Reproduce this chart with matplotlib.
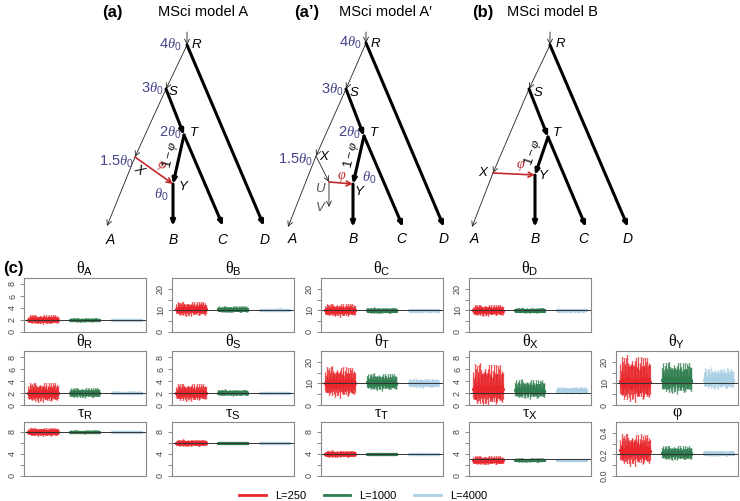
import numpy as np
import matplotlib
matplotlib.use('Agg')
import matplotlib.pyplot as plt
from matplotlib.lines import Line2D

plt.rcParams['font.family'] = ['Liberation Sans', 'DejaVu Sans']
plt.rcParams['mathtext.fontset'] = 'custom'
plt.rcParams['mathtext.rm'] = 'Liberation Serif'
plt.rcParams['mathtext.it'] = 'Liberation Serif:italic'
plt.rcParams['mathtext.sf'] = 'Liberation Sans'

W, H = 740, 501

# tree diagrams: node positions (figure pixels), edges and labels
treeA_nodes = {'top': (187, 32), 'R': (187, 45), 'S': (166, 89), 'T': (184, 135),
               'X': (135, 157), 'Y': (173, 184), 'A': (107, 226), 'B': (173, 226),
               'C': (223, 226), 'D': (264, 226)}
treeA_edges = [('top', 'R', 'thin'), ('R', 'S', 'thin'), ('R', 'D', 'thick'), ('S', 'X', 'thin'),
               ('S', 'T', 'thick'), ('X', 'A', 'thin'), ('T', 'Y', 'thick'), ('T', 'C', 'thick'),
               ('Y', 'B', 'thick'), ('X', 'Y', 'red')]
treeA_labels = [(r'$\mathsf{4}\theta_{\mathsf{0}}$', 170, 45, 'theta', 0),
                ('R', 196, 45, 'node', 0),
                (r'$\mathsf{3}\theta_{\mathsf{0}}$', 152, 89, 'theta', 0),
                ('S', 173, 92, 'node', 0),
                (r'$\mathsf{2}\theta_{\mathsf{0}}$', 170, 133, 'theta', 0),
                ('T', 194, 133, 'node', 0),
                (r'$\mathsf{1.5}\theta_{\mathsf{0}}$', 116, 162, 'theta', 0),
                ('X', 139, 170, 'node', -35),
                (r'$\varphi$', 161, 166, 'phi', -35),
                (r'$\mathsf{1}-\varphi$', 170, 155, 'omp', 77),
                ('Y', 183, 187, 'node', 0),
                (r'$\theta_{\mathsf{0}}$', 161, 195, 'theta', 0),
                ('A', 110, 240, 'leaf', 0), ('B', 173, 240, 'leaf', 0),
                ('C', 222, 240, 'leaf', 0), ('D', 265, 240, 'leaf', 0)]

treeA2_nodes = {'top': (366, 32), 'R': (366, 43), 'S': (346, 89), 'T': (364, 136),
                'X': (316, 156), 'U': (329, 182), 'V': (329, 207), 'Y': (353, 184),
                'A': (288, 227), 'B': (353, 227), 'C': (403, 227), 'D': (444, 227)}
treeA2_edges = [('top', 'R', 'thin'), ('R', 'S', 'thin'), ('R', 'D', 'thick'), ('S', 'X', 'thin'),
                ('S', 'T', 'thick'), ('X', 'A', 'thin'), ('X', 'U', 'thin'), ('U', 'V', 'thin'),
                ('T', 'Y', 'thick'), ('T', 'C', 'thick'), ('Y', 'B', 'thick'), ('U', 'Y', 'red')]
treeA2_labels = [(r'$\mathsf{4}\theta_{\mathsf{0}}$', 350, 43, 'theta', 0),
                 ('R', 375, 44, 'node', 0),
                 (r'$\mathsf{3}\theta_{\mathsf{0}}$', 332, 90, 'theta', 0),
                 ('S', 354, 93, 'node', 0),
                 (r'$\mathsf{2}\theta_{\mathsf{0}}$', 349, 133, 'theta', 0),
                 ('T', 374, 133, 'node', 0),
                 (r'$\mathsf{1.5}\theta_{\mathsf{0}}$', 295, 160, 'theta', 0),
                 ('X', 324, 157, 'node', 0),
                 (r'$\mathsf{1}-\varphi$', 351, 155, 'omp', 77),
                 (r'$\varphi$', 342, 177, 'phi', 0),
                 (r'$\theta_{\mathsf{0}}$', 369, 178, 'theta', 0),
                 ('Y', 359, 192, 'node', 0),
                 ('U', 320, 189, 'gray', 0), ('V', 320, 208, 'gray', 0),
                 ('A', 292, 239, 'leaf', 0), ('B', 353, 239, 'leaf', 0),
                 ('C', 401, 239, 'leaf', 0), ('D', 444, 239, 'leaf', 0)]

treeB_nodes = {'top': (550, 32), 'R': (550, 45), 'S': (529, 89), 'T': (548, 137),
               'X': (493, 173), 'Y': (535, 175), 'A': (472, 227), 'B': (535, 227),
               'C': (586, 227), 'D': (628, 227)}
treeB_edges = [('top', 'R', 'thin'), ('R', 'S', 'thin'), ('R', 'D', 'thick'), ('S', 'X', 'thin'),
               ('S', 'T', 'thick'), ('X', 'A', 'thin'), ('T', 'Y', 'thick'), ('T', 'C', 'thick'),
               ('Y', 'B', 'thick'), ('X', 'Y', 'red')]
treeB_labels = [('R', 560, 44, 'node', 0), ('S', 538, 93, 'node', 0), ('T', 557, 133, 'node', 0),
                (r'$\mathsf{1}-\varphi$', 533, 152, 'omp', 71),
                ('X', 483, 173, 'node', 0), (r'$\varphi$', 521, 166, 'phi', 0),
                ('Y', 543, 176, 'node', 0),
                ('A', 474, 239, 'leaf', 0), ('B', 535, 239, 'leaf', 0),
                ('C', 583, 239, 'leaf', 0), ('D', 628, 239, 'leaf', 0)]

headings = [('(a)', 112, 'bold'), ('MSci model A', 158, 'plain'),
            ('(a\u2019)', 307, 'bold'), ('MSci model A\u2032', 339, 'plain'),
            ('(b)', 483, 'bold'), ('MSci model B', 507, 'plain')]

# panel (c): parameters, true values and estimates
panelTitles = [r'$\mathrm{θ}_{\mathsf{A}}$', r'$\mathrm{θ}_{\mathsf{B}}$', r'$\mathrm{θ}_{\mathsf{C}}$',
               r'$\mathrm{θ}_{\mathsf{D}}$', r'$\mathrm{θ}_{\mathsf{R}}$', r'$\mathrm{θ}_{\mathsf{S}}$',
               r'$\mathrm{θ}_{\mathsf{T}}$', r'$\mathrm{θ}_{\mathsf{X}}$', r'$\mathrm{θ}_{\mathsf{Y}}$',
               r'$\mathrm{τ}_{\mathsf{R}}$', r'$\mathrm{τ}_{\mathsf{S}}$', r'$\mathrm{τ}_{\mathsf{T}}$',
               r'$\mathrm{τ}_{\mathsf{X}}$', r'$\mathrm{φ}$']
panelGrid = [(0, 0), (0, 1), (0, 2), (0, 3), (1, 0), (1, 1), (1, 2), (1, 3), (1, 4),
             (2, 0), (2, 1), (2, 2), (2, 3), (2, 4)]
trueValues = [2, 10, 10, 10, 2, 2, 10, 2, 10, 8, 6, 4, 3, 0.2]
axisKind = ['small', 'big', 'big', 'big', 'small', 'small', 'big', 'small', 'big',
            'tau', 'tau', 'tau', 'tau', 'phi']

Ls = ['L=250', 'L=1000', 'L=4000']
Lcolors = ['#E8262B', '#2E7D4E', '#A9CFE4']

# posterior mean centre, CI extent below / above the mean, spread of means across replicates
center250 = [2.05, 10.5, 10.0, 9.9, 2.0, 2.0, 10.0, 2.6, 10.5, 8.0, 6.0, 4.0, 2.85, 0.23]
below250 = [0.4, 1.8, 1.6, 1.4, 0.9, 0.8, 4.0, 1.6, 5.5, 0.45, 0.35, 0.35, 0.45, 0.08]
above250 = [0.5, 2.2, 1.9, 1.7, 1.1, 1.0, 5.0, 2.8, 8.0, 0.5, 0.4, 0.4, 0.5, 0.1]
jitter250 = [0.1, 0.6, 0.5, 0.4, 0.25, 0.2, 1.0, 0.5, 1.3, 0.12, 0.08, 0.08, 0.1, 0.025]

center1000 = [2.0, 10.5, 10.0, 10.0, 2.0, 2.05, 10.3, 2.4, 11.5, 8.0, 6.0, 4.0, 2.9, 0.21]
below1000 = [0.18, 0.8, 0.75, 0.65, 0.45, 0.3, 2.2, 0.8, 3.8, 0.18, 0.13, 0.13, 0.2, 0.04]
above1000 = [0.22, 0.9, 0.85, 0.75, 0.55, 0.35, 2.8, 1.2, 5.5, 0.2, 0.15, 0.15, 0.22, 0.045]
jitter1000 = [0.04, 0.25, 0.2, 0.2, 0.1, 0.07, 0.5, 0.2, 0.9, 0.04, 0.03, 0.03, 0.04, 0.008]

center4000 = [2.0, 10.3, 10.0, 10.0, 2.0, 2.0, 10.0, 2.35, 11.5, 8.0, 6.0, 4.0, 2.9, 0.21]
below4000 = [0.07, 0.3, 0.28, 0.22, 0.15, 0.1, 1.2, 0.3, 2.6, 0.06, 0.05, 0.05, 0.12, 0.015]
above4000 = [0.08, 0.35, 0.3, 0.25, 0.18, 0.12, 1.5, 0.45, 3.8, 0.07, 0.05, 0.05, 0.12, 0.017]
jitter4000 = [0.02, 0.08, 0.07, 0.06, 0.03, 0.02, 0.25, 0.08, 0.5, 0.015, 0.01, 0.01, 0.02, 0.003]

# replicate-to-replicate variation (read as a pattern, same for every cluster)
repShift = [0.3, -0.8, 1.1, -0.2, 0.6, -1.3, 0.1, 0.9, -0.5, 1.4, -1.0, 0.4, -0.1, 0.8, -0.7,
            1.2, -1.5, 0.2, 0.5, -0.4, 1.0, -0.9, 0.0, 0.7, -1.2, 0.3, 1.3, -0.6, 0.1, -0.3,
            0.9, -1.1, 0.6, -0.2, 1.5, -0.8, 0.4, -1.4, 0.2, 0.8, -0.5, 1.1, -0.1, 0.5, -1.0,
            0.7, -0.3, 1.2, -0.7, 0.0]
repWidth = [1.0, 0.8, 1.3, 0.9, 1.1, 0.7, 1.4, 0.9, 1.0, 1.2, 0.8, 1.5, 0.9, 1.0, 1.1, 0.7,
            1.2, 1.0, 0.8, 1.3, 0.9, 1.1, 1.0, 0.7, 1.4, 0.9, 1.2, 1.0, 0.8, 1.1, 1.3, 0.9,
            1.0, 0.8, 1.2, 1.0, 0.9, 1.1, 1.4, 0.8, 1.0, 1.2, 0.9, 1.1, 0.7, 1.3, 1.0, 0.9,
            1.1, 1.0]

colLeft = [24, 172, 321, 469, 616]
rowTop = [278, 351, 422]
panelW, panelH = 122, 54


def drawTree(ax, nodes, edges, labels):
    for a, b, kind in edges:
        if kind == 'thin':
            props = dict(arrowstyle='->,head_length=0.45,head_width=0.22', lw=0.6, color='#222222')
        elif kind == 'thick':
            props = dict(arrowstyle='->,head_length=0.35,head_width=0.15', lw=2.2, color='black')
        else:
            props = dict(arrowstyle='->,head_length=0.45,head_width=0.22', lw=1.2, color='#C0282D')
        props.update(shrinkA=0, shrinkB=0, mutation_scale=8)
        ax.annotate('', xy=nodes[b], xytext=nodes[a], arrowprops=props)
    for txt, x, y, kind, rot in labels:
        if kind == 'theta':
            ax.text(x, y, txt, color='#45458A', fontsize=10.5, ha='center', va='center')
        elif kind == 'phi':
            ax.text(x, y, txt, color='#C0282D', fontsize=10, ha='center', va='center', rotation=rot)
        elif kind == 'omp':
            ax.text(x, y, txt, color='black', fontsize=9.5, ha='center', va='center', rotation=rot)
        elif kind == 'gray':
            ax.text(x, y, txt, color='#555555', fontsize=9.5, style='italic', ha='center', va='center')
        else:
            ax.text(x, y, txt, color='black', fontsize=10 if kind == 'leaf' else 9.5,
                    style='italic', ha='center', va='center', rotation=rot)


def drawPanel(ax, k):
    centers = [center250[k], center1000[k], center4000[k]]
    belows = [below250[k], below1000[k], below4000[k]]
    aboves = [above250[k], above1000[k], above4000[k]]
    jitters = [jitter250[k], jitter1000[k], jitter4000[k]]
    shift = np.array(repShift)
    width = np.array(repWidth)
    for j in range(3):
        xs = 1 + 140 * j + 2 * np.arange(len(shift))
        m = centers[j] + jitters[j] * shift
        lo = m - belows[j] * width
        hi = m + aboves[j] * width
        ax.vlines(xs, lo, hi, color=Lcolors[j], lw=0.9, alpha=0.8)
        ax.hlines(lo, xs - 3, xs + 3, color=Lcolors[j], lw=0.4, alpha=0.6)
        ax.hlines(hi, xs - 3, xs + 3, color=Lcolors[j], lw=0.4, alpha=0.6)
        ax.plot(xs, m, 'o', ms=1.3, color=Lcolors[j])
    ax.axhline(trueValues[k], color='#333333', lw=0.7)
    ax.set_xlim(-14, 395)
    kind = axisKind[k]
    if kind == 'small':
        ax.set_ylim(0, 9)
        ticks, labs = [0, 2, 4, 6, 8], ['0', '2', '4', '6', '8']
    elif kind == 'big':
        ax.set_ylim(0, 25)
        ticks, labs = [0, 5, 10, 15, 20], ['0', '', '10', '', '20']
    elif kind == 'tau':
        ax.set_ylim(0, 9.8)
        ticks, labs = [0, 2, 4, 6, 8], ['0', '', '4', '', '8']
    else:
        ax.set_ylim(0, 0.5)
        ticks, labs = [0, 0.1, 0.2, 0.3, 0.4], ['0.0', '', '0.2', '', '0.4']
    ax.set_yticks(ticks)
    ax.set_yticklabels(labs, rotation=90, va='center', fontsize=6.5, color='#444444')
    ax.set_xticks([])
    ax.tick_params(axis='y', length=3, width=0.6, color='#777777', pad=2)
    for s in ax.spines.values():
        s.set_color('#888888')
        s.set_linewidth(0.8)
    ax.set_title(panelTitles[k], fontsize=11.5, pad=2)


fig = plt.figure(figsize=(W / 100, H / 100), dpi=100)
bg = fig.add_axes([0, 0, 1, 1])
bg.set_xlim(0, W)
bg.set_ylim(H, 0)
bg.axis('off')

drawTree(bg, treeA_nodes, treeA_edges, treeA_labels)
drawTree(bg, treeA2_nodes, treeA2_edges, treeA2_labels)
drawTree(bg, treeB_nodes, treeB_edges, treeB_labels)
for txt, x, w in headings:
    if w == 'bold':
        bg.text(x, 12, txt, fontsize=12, fontweight='bold', ha='center', va='center')
    else:
        bg.text(x, 12, txt, fontsize=10.5, ha='left', va='center')
bg.text(3, 268, '(c)', fontsize=12, fontweight='bold', ha='left', va='center')

for k, (r, c) in enumerate(panelGrid):
    ax = fig.add_axes([colLeft[c] / W, 1 - (rowTop[r] + panelH) / H, panelW / W, panelH / H])
    drawPanel(ax, k)

handles = [Line2D([], [], color=col, lw=2) for col in Lcolors]
fig.legend(handles, Ls, loc='center', bbox_to_anchor=(363 / W, 1 - 496 / H), ncol=3,
           frameon=False, fontsize=8, handlelength=2.4, columnspacing=1.6, handletextpad=0.8)

fig.savefig('out.png', dpi=100)
